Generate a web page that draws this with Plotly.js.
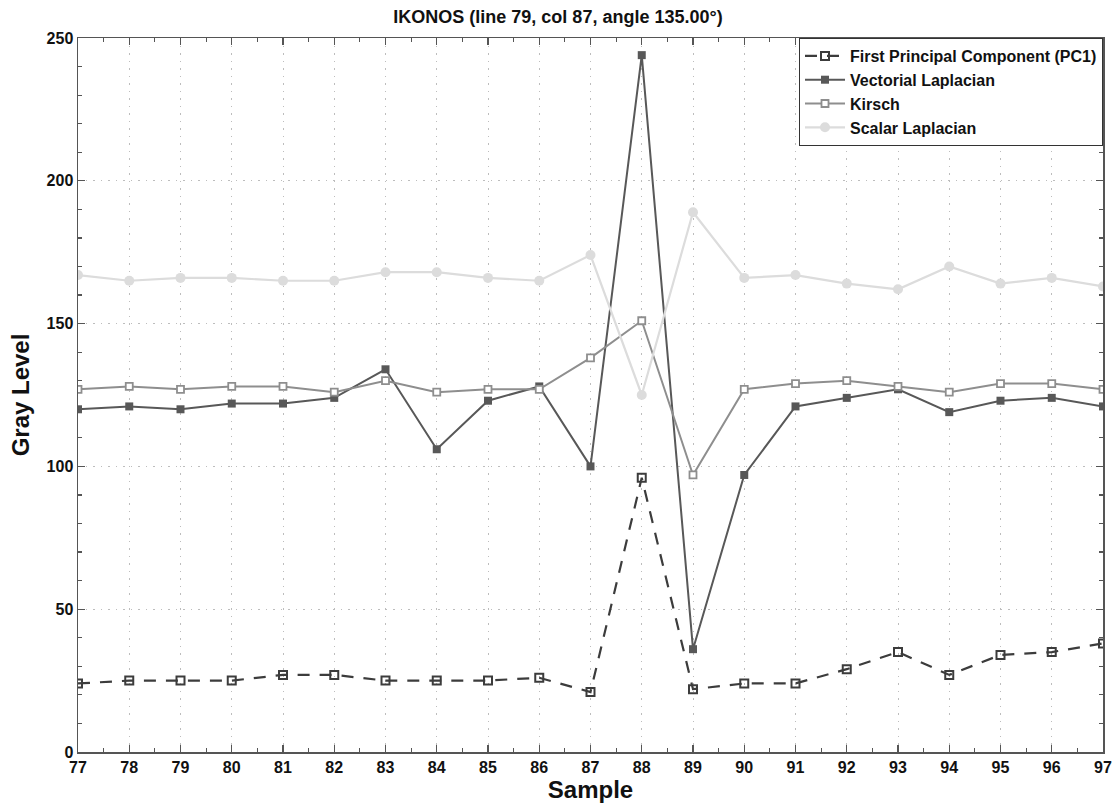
<!DOCTYPE html>
<html><head><meta charset="utf-8">
<script src="https://cdn.plot.ly/plotly-3.0.1.min.js"></script>
<style>html,body{margin:0;padding:0;background:#fff}#chart{width:1116px;height:804px}</style>
</head><body><div id="chart"></div>
<script>
const samples = [77,78,79,80,81,82,83,84,85,86,87,88,89,90,91,92,93,94,95,96,97];
const pc1 = [24,25,25,25,27,27,25,25,25,26,21,96,22,24,24,29,35,27,34,35,38];
const vectorialLaplacian = [120,121,120,122,122,124,134,106,123,128,100,244,36,97,121,124,127,119,123,124,121];
const kirsch = [127,128,127,128,128,126,130,126,127,127,138,151,97,127,129,130,128,126,129,129,127];
const scalarLaplacian = [167,165,166,166,165,165,168,168,166,165,174,125,189,166,167,164,162,170,164,166,163];
const yTicks = [0,50,100,150,200,250];

const FONT = 'Liberation Sans, Arial, sans-serif';
const traces = [
  {x: samples, y: pc1, name: 'First Principal Component (PC1)', mode: 'lines+markers',
   line: {color: '#3c3c3c', width: 2.2, dash: '12px,10px'},
   marker: {symbol: 'square-open', size: 8, color: '#3c3c3c', line: {width: 2, color: '#3c3c3c'}}},
  {x: samples, y: vectorialLaplacian, name: 'Vectorial Laplacian', mode: 'lines+markers',
   line: {color: '#585858', width: 2},
   marker: {symbol: 'square', size: 8, color: '#585858'}},
  {x: samples, y: kirsch, name: 'Kirsch', mode: 'lines+markers',
   line: {color: '#8e8e8e', width: 2},
   marker: {symbol: 'square', size: 7, color: '#ffffff', line: {width: 1.8, color: '#8e8e8e'}}},
  {x: samples, y: scalarLaplacian, name: 'Scalar Laplacian', mode: 'lines+markers',
   line: {color: '#dcdcdc', width: 2.2},
   marker: {symbol: 'circle', size: 10, color: '#dcdcdc'}}
];

const layout = {
  width: 1116, height: 804,
  margin: {l: 78, r: 13, t: 38, b: 52, pad: 0},
  paper_bgcolor: '#fff', plot_bgcolor: '#fff',
  font: {family: FONT, color: '#111'},
  title: {text: 'IKONOS (line 79, col 87, angle 135.00°)', font: {size: 18, weight: 'bold', family: FONT, color: '#111'},
          x: 0.5, xanchor: 'center', y: 0.979, yanchor: 'middle'},
  xaxis: {
    range: [77, 97], tickvals: samples, ticktext: samples.map(String),
    ticks: 'inside', ticklen: 7, tickwidth: 1.2, tickcolor: '#555',
    showline: true, linecolor: '#555', linewidth: 1.5, mirror: 'ticks',
    showgrid: true, gridcolor: '#bdbdbd', griddash: '1.5px,6px', gridwidth: 1,
    zeroline: false,
    minor: {dtick: 0.5, tick0: 77, ticks: 'inside', ticklen: 4, tickcolor: '#555', showgrid: false},
    tickfont: {size: 16, weight: 'bold', family: FONT, color: '#111'},
    title: {text: 'Sample', font: {size: 24, weight: 'bold', family: FONT, color: '#111'}, standoff: 2}
  },
  yaxis: {
    range: [0, 250], tickvals: yTicks,
    ticks: 'inside', ticklen: 7, tickwidth: 1.2, tickcolor: '#555',
    showline: true, linecolor: '#555', linewidth: 1.5, mirror: 'ticks',
    showgrid: true, gridcolor: '#bdbdbd', griddash: '1.5px,6px', gridwidth: 1,
    zeroline: false,
    minor: {dtick: 10, tick0: 0, ticks: 'inside', ticklen: 4, tickcolor: '#555', showgrid: false},
    tickfont: {size: 16, weight: 'bold', family: FONT, color: '#111'},
    title: {text: 'Gray Level', font: {size: 24, weight: 'bold', family: FONT, color: '#111'}, standoff: 10}
  },
  legend: {
    x: 1, xanchor: 'right', y: 1, yanchor: 'top',
    bgcolor: '#fff', bordercolor: '#333', borderwidth: 1,
    font: {size: 16, weight: 'bold', family: FONT, color: '#111'},
    tracegroupgap: 0, itemwidth: 40
  },
  showlegend: true
};
Plotly.newPlot('chart', traces, layout, {displayModeBar: false, staticPlot: true});
</script></body></html>
